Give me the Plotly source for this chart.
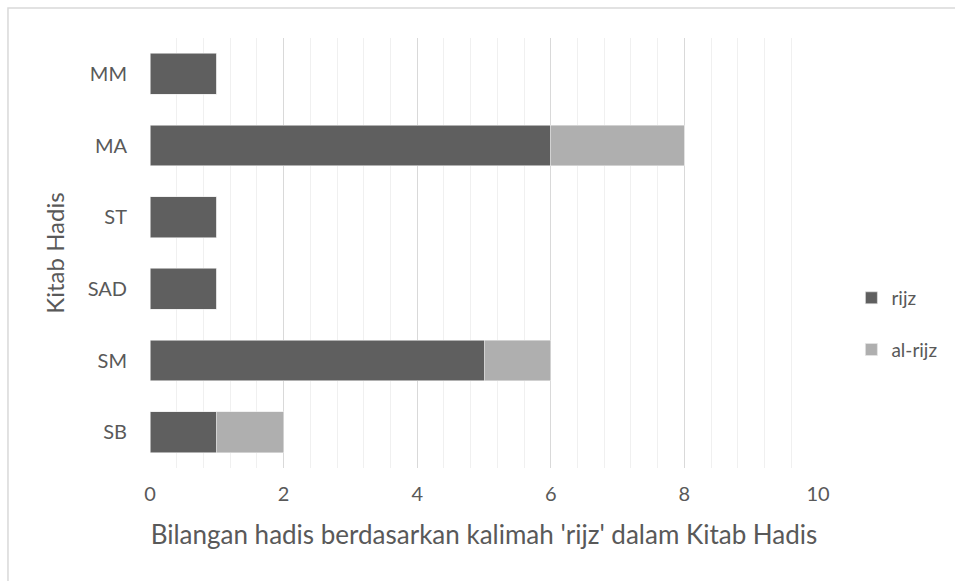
import plotly.graph_objects as go

# Hadith collections (bottom to top) and counts per keyword form
kitab = ["SB", "SM", "SAD", "ST", "MA", "MM"]
rijz = [1, 5, 1, 1, 6, 1]
al_rijz = [1, 1, 0, 0, 2, 0]

x_ticks = [0, 2, 4, 6, 8, 10]

TEXT = "#595959"
FONT = "Lato"

fig = go.Figure()
fig.add_trace(go.Bar(
    y=kitab, x=rijz, name="rijz", orientation="h",
    marker=dict(color="#5f5f5f", line=dict(color="#e8e8e8", width=0.6)),
    legendgroup="a",
))
fig.add_trace(go.Bar(
    y=kitab, x=al_rijz, name="al-rijz", orientation="h",
    marker=dict(color="#afafaf", line=dict(color="#e8e8e8", width=0.6)),
    legendgroup="b",
))

fig.update_layout(
    width=955, height=581,
    barmode="stack", bargap=0.43,
    paper_bgcolor="white", plot_bgcolor="white",
    margin=dict(l=150, r=137, t=38, b=113, autoexpand=False),
    font=dict(family=FONT, color=TEXT, size=20),
    legend=dict(
        x=1.05, xanchor="left", y=0.335, yanchor="middle",
        traceorder="grouped", tracegroupgap=24,
        font=dict(size=19, color=TEXT), itemwidth=30,
    ),
    xaxis=dict(
        range=[0, 10], tickvals=x_ticks, ticktext=[str(v) for v in x_ticks],
        showgrid=True, gridcolor="#d9d9d9", gridwidth=1.3,
        zeroline=False, showline=False,
        minor=dict(dtick=0.4, tick0=0, showgrid=True, gridcolor="#f0f0f0", gridwidth=1),
        ticks="", ticklabelstandoff=12,
        tickfont=dict(size=20, color=TEXT),
        title=dict(text="Bilangan hadis berdasarkan kalimah 'rijz' dalam Kitab Hadis",
                   font=dict(size=26, color=TEXT), standoff=21),
    ),
    yaxis=dict(
        categoryorder="array", categoryarray=kitab,
        showgrid=False, zeroline=False, showline=False,
        ticks="", ticklabelstandoff=22,
        tickfont=dict(size=20, color=TEXT),
        title=dict(text="Kitab Hadis", font=dict(size=24, color=TEXT), standoff=16),
    ),
    shapes=[dict(
        type="rect", xref="paper", yref="paper",
        x0=-0.2126, x1=2.0, y0=-2.0, y1=1.0698,
        line=dict(color="#d9d9d9", width=1.5), fillcolor="rgba(0,0,0,0)", layer="below",
    )],
)

fig.write_html("out.html")
